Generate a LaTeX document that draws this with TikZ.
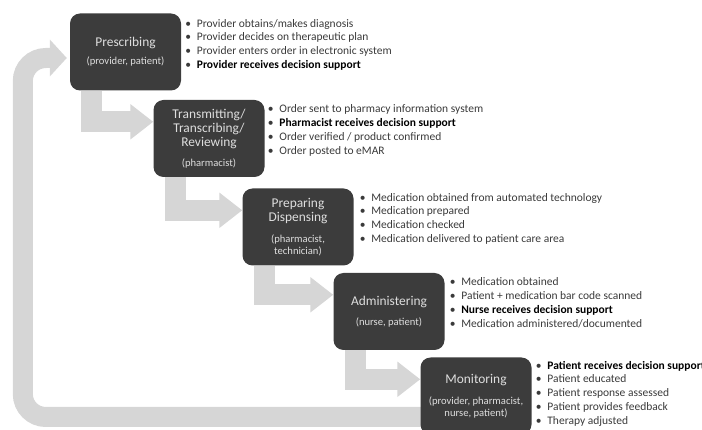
\documentclass[tikz,border=0pt]{standalone}
\usepackage{fontspec}
\setmainfont{Carlito}
\usetikzlibrary{arrows.meta, positioning, backgrounds}
\definecolor{boxgray}{HTML}{3C3C3C}
\definecolor{flowgray}{HTML}{D6D6D6}
\definecolor{labelgray}{HTML}{DEDEDE}
\definecolor{listgray}{HTML}{3A3A3A}
\newcommand{\role}[1]{{\fontsize{10.6}{12}\selectfont #1}}
\newcommand{\itm}[1]{\strut\makebox[11.5pt][l]{\textbullet}#1}
\newcommand{\key}[1]{\textcolor{black}{\textbf{#1}}}

\begin{document}
\begin{tikzpicture}[
        x=1pt, y=-1pt,
        stage/.style={
            fill=boxgray,
            rounded corners=10pt,
            minimum width=111pt,
            minimum height=77pt,
            inner sep=2pt,
            align=center,
            text=labelgray,
            font=\fontsize{13.4}{14}\selectfont
        },
        duties/.style={
            anchor=north west,
            inner sep=0pt,
            align=left,
            text=listgray,
            font=\fontsize{11.5}{13.9}\selectfont
        },
        flow/.style={
            draw=flowgray,
            line width=21pt,
            -{Triangle[length=23pt,width=34pt]}
        },
        loopback/.style={
            draw=flowgray,
            line width=20pt,
            rounded corners=23pt,
            -{Triangle[length=17pt,width=36pt]}
        }
    ]
        \useasboundingbox (0,0) rectangle (702,430);

        \node[stage] (presc) at (125.5,52) {
            Prescribing\\[4pt]
            \role{(provider, patient)}
        };

        \node[stage] (trans) at (209,138.5) {
            Transmitting/\\
            Transcribing/\\
            Reviewing\\[6pt]
            \role{(pharmacist)}
        };

        \node[stage] (prep) at (298,227) {
            Preparing\\
            Dispensing\\[7pt]
            \role{(pharmacist,}\\[-2pt]
            \role{technician)}
        };

        \node[stage] (admin) at (389,311.5) {
            Administering\\[6pt]
            \role{(nurse, patient)}
        };

        \node[stage] (monit) at (476,396) {
            Monitoring\\[7pt]
            \role{(provider, pharmacist,}\\[-2pt]
            \role{nurse, patient)}
        };

        \node[duties] (presc-list) at ([shift={(4pt,-3.8pt)}]presc.north east) {
            \itm{Provider obtains/makes diagnosis}\\
            \itm{Provider decides on therapeutic plan}\\
            \itm{Provider enters order in electronic system}\\
            \itm{\key{Provider receives decision support}}
        };

        \node[duties] (trans-list) at ([shift={(3pt,-2.8pt)}]trans.north east) {
            \itm{Order sent to pharmacy information system}\\
            \itm{\key{Pharmacist receives decision support}}\\
            \itm{Order verified / product confirmed}\\
            \itm{Order posted to eMAR}
        };

        \node[duties] (prep-list) at ([shift={(6pt,-2.8pt)}]prep.north east) {
            \itm{Medication obtained from automated technology}\\
            \itm{Medication prepared}\\
            \itm{Medication checked}\\
            \itm{Medication delivered to patient care area}
        };

        \node[duties] (admin-list) at ([shift={(5pt,-2.8pt)}]admin.north east) {
            \itm{Medication obtained}\\
            \itm{Patient + medication bar code scanned}\\
            \itm{\key{Nurse receives decision support}}\\
            \itm{Medication administered/documented}
        };

        \node[duties] (monit-list) at ([shift={(4pt,-1.8pt)}]monit.north east) {
            \itm{\key{Patient receives decision support}}\\
            \itm{Patient educated}\\
            \itm{Patient response assessed}\\
            \itm{Patient provides feedback}\\
            \itm{Therapy adjusted}
        };

        \begin{scope}[on background layer]
            \draw[flow] ([xshift=22pt]presc.south west) |- ([yshift=-22pt]trans.north west);
            \draw[flow] ([xshift=22pt]trans.south west) |- ([yshift=-22pt]prep.north west);
            \draw[flow] ([xshift=22pt]prep.south west) |- ([yshift=-22pt]admin.north west);
            \draw[flow] ([xshift=22pt]admin.south west) |- ([yshift=-22pt]monit.north west);
            \draw[loopback] ([xshift=6pt,yshift=-21pt]monit.west)
                -| ([xshift=-47pt,yshift=-6pt]presc.west)
                -- ([xshift=-3pt,yshift=-6pt]presc.west);
        \end{scope}
    \end{tikzpicture}
\end{document}
